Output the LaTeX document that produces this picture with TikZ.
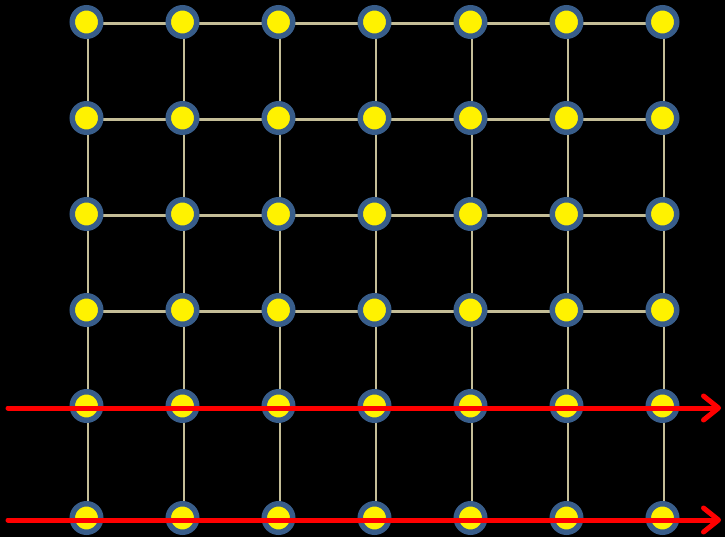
\documentclass[tikz,border=0pt]{standalone}
\usetikzlibrary{arrows.meta,backgrounds}
\definecolor{ringblue}{HTML}{385D8A}
\definecolor{linktan}{HTML}{C4BD97}
\tikzset{
  dot/.style={circle,fill=yellow,draw=ringblue,line width=5.5pt,minimum size=28.5pt,inner sep=0pt},
  link/.style={draw=linktan,line width=2.5pt},
  redarrow/.style={draw=red,line width=5pt,line cap=round,-{Straight Barb[length=15pt,width=24pt,round]}}
}
\begin{document}
\begin{tikzpicture}[x=1pt,y=-1pt]
\useasboundingbox (0,0) rectangle (725,537);
\foreach \r/\yy in {1/22,2/118,3/214,4/310,5/406,6/518}{
  \foreach \c in {1,...,7}{
    \node[dot] (n\r-\c) at ({86.5+96*(\c-1)},\yy) {};
  }
}
\begin{scope}[on background layer]
\fill[black] (0,0) rectangle (725,537);
\foreach \r in {1,...,6}{
  \foreach \c [evaluate=\c as \cn using int(\c+1)] in {1,...,6}{
    \draw[link] ([shift={(1.5,1.5)}]n\r-\c.center) -- ([shift={(1.5,1.5)}]n\r-\cn.center);
  }
}
\foreach \r [evaluate=\r as \rn using int(\r+1)] in {1,...,5}{
  \foreach \c in {1,...,7}{
    \draw[link] ([shift={(1.5,1.5)}]n\r-\c.center) -- ([shift={(1.5,1.5)}]n\rn-\c.center);
  }
}
\end{scope}
\coordinate (a1s) at (8,408);
\coordinate (a1e) at (721,408);
\coordinate (a2s) at (8,520);
\coordinate (a2e) at (721,520);
\draw[redarrow] (a1s) -- (a1e);
\draw[redarrow] (a2s) -- (a2e);
\end{tikzpicture}
\end{document}
